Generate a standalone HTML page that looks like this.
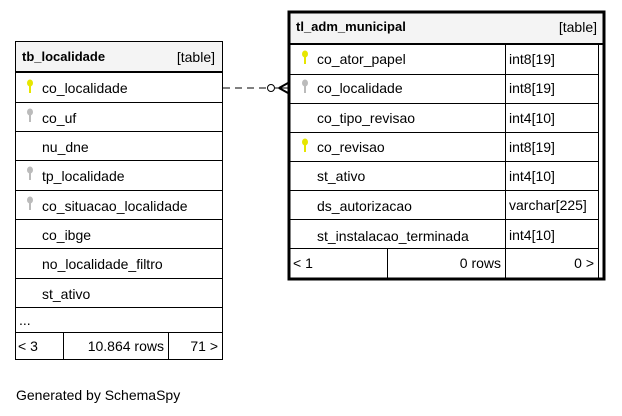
<!DOCTYPE html>
<html><head><meta charset="utf-8"><style>
html,body{margin:0;padding:0;background:#fff;}
svg{display:block;font-family:"Liberation Sans",sans-serif;font-size:14px;}
</style></head><body>
<svg width="622" height="416" viewBox="0 0 622 416" xmlns="http://www.w3.org/2000/svg">
<defs>
<g id="key"><rect x="-1" y="3" width="2" height="9"/><ellipse cx="0" cy="2" rx="3" ry="3.5"/></g>
</defs>
<!-- left table -->
<rect x="15.5" y="41.5" width="207" height="318" fill="#fff" stroke="#000"/>
<rect x="16" y="42" width="206" height="30" fill="#f4f4f4"/>
<line x1="15" y1="72" x2="223" y2="72" stroke="#000" stroke-width="2"/>
<g stroke="#000">
<line x1="15" y1="102.5" x2="223" y2="102.5"/>
<line x1="15" y1="131.5" x2="223" y2="131.5"/>
<line x1="15" y1="160.5" x2="223" y2="160.5"/>
<line x1="15" y1="190.5" x2="223" y2="190.5"/>
<line x1="15" y1="219.5" x2="223" y2="219.5"/>
<line x1="15" y1="248.5" x2="223" y2="248.5"/>
<line x1="15" y1="278.5" x2="223" y2="278.5"/>
<line x1="15" y1="307.5" x2="223" y2="307.5"/>
<line x1="15" y1="332.5" x2="223" y2="332.5"/>
<line x1="63.5" y1="332" x2="63.5" y2="360"/>
<line x1="168.5" y1="332" x2="168.5" y2="360"/>
</g>
<text x="22" y="61" font-weight="bold" font-size="13">tb_localidade</text>
<text x="215" y="62" text-anchor="end">[table]</text>
<use href="#key" x="30" y="81" fill="#e6e600"/>
<use href="#key" x="30" y="110" fill="#bbb"/>
<use href="#key" x="30" y="168" fill="#bbb"/>
<use href="#key" x="30" y="198" fill="#bbb"/>
<g fill="#000">
<text x="42" y="93">co_localidade</text>
<text x="42" y="123">co_uf</text>
<text x="42" y="152">nu_dne</text>
<text x="42" y="181">tp_localidade</text>
<text x="42" y="211">co_situacao_localidade</text>
<text x="42" y="240">co_ibge</text>
<text x="42" y="269">no_localidade_filtro</text>
<text x="42" y="299">st_ativo</text>
<text x="19" y="325">...</text>
<text x="18" y="351">&lt; 3</text>
<text x="164" y="351" text-anchor="end">10.864 rows</text>
<text x="218" y="351" text-anchor="end">71 &gt;</text>
</g>
<!-- right table -->
<rect x="289" y="12" width="315" height="267" fill="#fff" stroke="#000" stroke-width="3"/>
<rect x="290.5" y="13.5" width="312" height="30" fill="#f4f4f4"/>
<line x1="289" y1="44" x2="604" y2="44" stroke="#000" stroke-width="2"/>
<g stroke="#000">
<line x1="289" y1="74.5" x2="598" y2="74.5"/>
<line x1="289" y1="103.5" x2="598" y2="103.5"/>
<line x1="289" y1="132.5" x2="598" y2="132.5"/>
<line x1="289" y1="161.5" x2="598" y2="161.5"/>
<line x1="289" y1="190.5" x2="598" y2="190.5"/>
<line x1="289" y1="219.5" x2="598" y2="219.5"/>
<line x1="289" y1="248.5" x2="598" y2="248.5"/>
<line x1="505.5" y1="44" x2="505.5" y2="278"/>
<line x1="387.5" y1="248" x2="387.5" y2="278"/>
<line x1="598.5" y1="44" x2="598.5" y2="278"/>
</g>
<text x="296" y="31" font-weight="bold" font-size="13">tl_adm_municipal</text>
<text x="597" y="32" text-anchor="end">[table]</text>
<use href="#key" x="305" y="52" fill="#e6e600"/>
<use href="#key" x="305" y="81" fill="#bbb"/>
<use href="#key" x="305" y="140" fill="#e6e600"/>
<g fill="#000">
<text x="317" y="64">co_ator_papel</text><text x="509" y="64">int8[19]</text>
<text x="317" y="93">co_localidade</text><text x="509" y="93">int8[19]</text>
<text x="317" y="123">co_tipo_revisao</text><text x="509" y="123">int4[10]</text>
<text x="317" y="152">co_revisao</text><text x="509" y="152">int8[19]</text>
<text x="317" y="181">st_ativo</text><text x="509" y="181">int4[10]</text>
<text x="317" y="211">ds_autorizacao</text><text x="509" y="210">varchar[225]</text>
<text x="317" y="241">st_instalacao_terminada</text><text x="509" y="240">int4[10]</text>
<text x="293" y="268">&lt; 1</text>
<text x="501" y="268" text-anchor="end">0 rows</text>
<text x="594" y="268" text-anchor="end">0 &gt;</text>
</g>
<!-- connector -->
<line x1="223" y1="88" x2="267" y2="88" stroke="#000" stroke-dasharray="7,5"/>
<circle cx="271" cy="88" r="3.5" fill="#fff" stroke="#000"/>
<line x1="275" y1="88" x2="288" y2="88" stroke="#000"/>
<path d="M279 88 L288 83 M279 88 L288 93" stroke="#000" stroke-width="2" fill="none"/>
<text x="16" y="400" fill="#000">Generated by SchemaSpy</text>
</svg>
</body></html>
